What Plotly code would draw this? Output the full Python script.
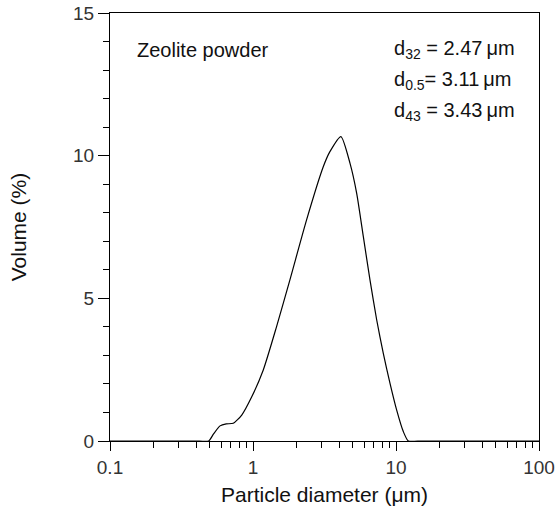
import plotly.graph_objects as go

# Particle size distribution
diameter_um = [0.1, 0.2, 0.3, 0.4, 0.49, 0.53, 0.588, 0.65, 0.728, 0.834, 0.98, 1.18, 1.46,
               1.81, 2.37, 3.10, 3.45, 4.12, 4.77, 5.31, 5.91, 6.58, 7.33, 8.15, 9.08, 10.1,
               11.25, 12.2, 15.0, 20.0, 50.0, 100.0]
volume_pct = [0, 0, 0, 0, 0, 0.25, 0.53, 0.6, 0.62, 0.91, 1.55, 2.49, 4.0,
              5.64, 7.75, 9.61, 10.14, 10.67, 9.73, 8.68, 7.16, 5.64, 4.24, 3.07, 2.02, 1.09,
              0.33, 0, 0, 0, 0, 0]

x_ticks = [0.1, 1, 10, 100]
x_tick_labels = ["0.1", "1", "10", "100"]
y_ticks = [0, 5, 10, 15]

stats_lines = ["d<sub>32</sub> = 2.47\u2009μm", "d<sub>0.5</sub>= 3.11\u2009μm", "d<sub>43</sub> = 3.43\u2009μm"]
sample_label = "Zeolite powder"

FONT = "Liberation Sans, Arial, sans-serif"

fig = go.Figure()
fig.add_trace(go.Scatter(x=diameter_um, y=volume_pct, mode="lines",
                         line=dict(color="black", width=1.2, shape="spline", smoothing=0.6),
                         showlegend=False, hoverinfo="skip"))

fig.update_layout(
    width=557, height=511,
    margin=dict(l=110, r=18, t=13, b=70, autoexpand=False),
    paper_bgcolor="white", plot_bgcolor="white",
    font=dict(family=FONT, size=19, color="#222"),
    xaxis=dict(type="log", range=[-1, 2], tickvals=x_ticks, ticktext=x_tick_labels,
               automargin=False,
               ticks="outside", ticklen=9, tickwidth=1.3, tickcolor="black",
               showline=True, linecolor="black", linewidth=1.3, mirror=True,
               showgrid=False, zeroline=False,
               minor=dict(ticks="outside", ticklen=6, tickwidth=1.2, tickcolor="black", dtick="D1", showgrid=False),
               title=dict(text="Particle diameter (μm)", font=dict(size=21, color="#111"), standoff=10),
               tickfont=dict(size=19, color="#333")),
    yaxis=dict(range=[0, 15], tickvals=y_ticks,
               automargin=False,
               ticks="outside", ticklen=11, tickwidth=1.3, tickcolor="black",
               showline=True, linecolor="black", linewidth=1.3, mirror=True,
               showgrid=False, zeroline=False,
               minor=dict(ticks="outside", ticklen=6, tickwidth=1.2, tickcolor="black", dtick=1, showgrid=False),
               title=dict(text="Volume (%)", font=dict(size=21, color="#111"), standoff=40),
               tickfont=dict(size=19, color="#333")),
)

fig.add_annotation(xref="paper", yref="paper", x=0.058, y=0.9136, xanchor="left", yanchor="middle",
                   text=sample_label, showarrow=False, font=dict(size=20, color="#111", family=FONT))
for i, t in enumerate(stats_lines):
    fig.add_annotation(xref="paper", yref="paper", x=0.657, y=0.9136 - i * 0.0724,
                       xanchor="left", yanchor="middle", text=t, showarrow=False,
                       font=dict(size=20, color="#111", family=FONT))

fig.write_html("out.html")
